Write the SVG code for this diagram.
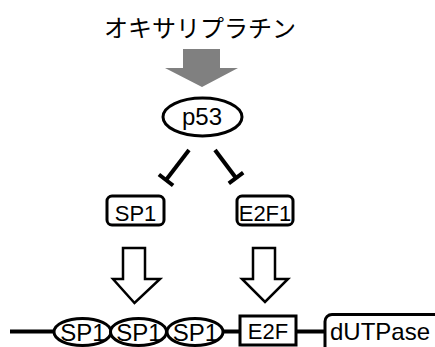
<svg xmlns="http://www.w3.org/2000/svg" width="435" height="347" viewBox="0 0 435 347">
<style>
.t{font-family:"Liberation Sans",Arial,sans-serif;fill:#000;text-anchor:middle}
.jp{font-family:"Noto Sans CJK JP","Noto Sans",sans-serif;fill:#000;text-anchor:middle;font-size:24px}
.sh{fill:#fff;stroke:#000;stroke-width:3}
.ln{stroke:#000;stroke-width:4;fill:none}
.ha{fill:#fff;stroke:#000;stroke-width:2.5;stroke-linejoin:miter}
.s21{font-size:22px}
.s23{font-size:24px}
</style>
<rect width="435" height="347" fill="#fff"/>
<g id="oxaliplatin">
<text class="jp" x="200" y="37">オキサリプラチン</text>
</g>
<g id="connectors">
<polygon points="183,49 220,49 220,68 238,68 202,87 165,68 183,68" fill="#808080"/>
<line class="ln" x1="189" y1="150" x2="166" y2="180"/>
<line class="ln" x1="158.9" y1="174.5" x2="173.1" y2="185.5"/>
<line class="ln" x1="215" y1="150" x2="236" y2="178"/>
<line class="ln" x1="228.8" y1="183.4" x2="243.2" y2="172.6"/>
<polygon class="ha" points="123,248 145,248 145,279 160,279 134.5,303 113,279 123,279"/>
<polygon class="ha" points="253,248 275,248 275,279 288,279 265,302 242,279 253,279"/>
<line class="ln" x1="10" y1="331.5" x2="325" y2="331.5"/>
</g>
<g id="p53">
<ellipse class="sh" cx="202.5" cy="117" rx="39.5" ry="19"/>
<text class="t s23" x="202" y="125">p53</text>
</g>
<g id="sp1">
<rect class="sh" x="107" y="196" width="57" height="29" rx="5"/>
<text class="t s21" x="135.5" y="221">SP1</text>
</g>
<g id="e2f1">
<rect class="sh" x="237" y="196" width="56" height="29" rx="5"/>
<text class="t s21" x="265" y="221">E2F1</text>
</g>
<g id="sp1a">
<ellipse class="sh" cx="82.5" cy="332" rx="28.5" ry="13.5"/>
<text class="t s23" x="83" y="340.5">SP1</text>
</g>
<g id="sp1b">
<ellipse class="sh" cx="138.5" cy="332" rx="28" ry="13.5"/>
<text class="t s23" x="139" y="340.5">SP1</text>
</g>
<g id="sp1c">
<ellipse class="sh" cx="195" cy="332" rx="28" ry="13.5"/>
<text class="t s23" x="195.5" y="340.5">SP1</text>
</g>
<g id="e2f">
<rect class="sh" x="240" y="316" width="56" height="29"/>
<text class="t s21" x="268" y="339">E2F</text>
</g>
<g id="dutpase">
<rect class="sh" x="325" y="314.5" width="130" height="45" rx="7"/>
<text class="t s23" x="380" y="340">dUTPase</text>
</g>
</svg>
